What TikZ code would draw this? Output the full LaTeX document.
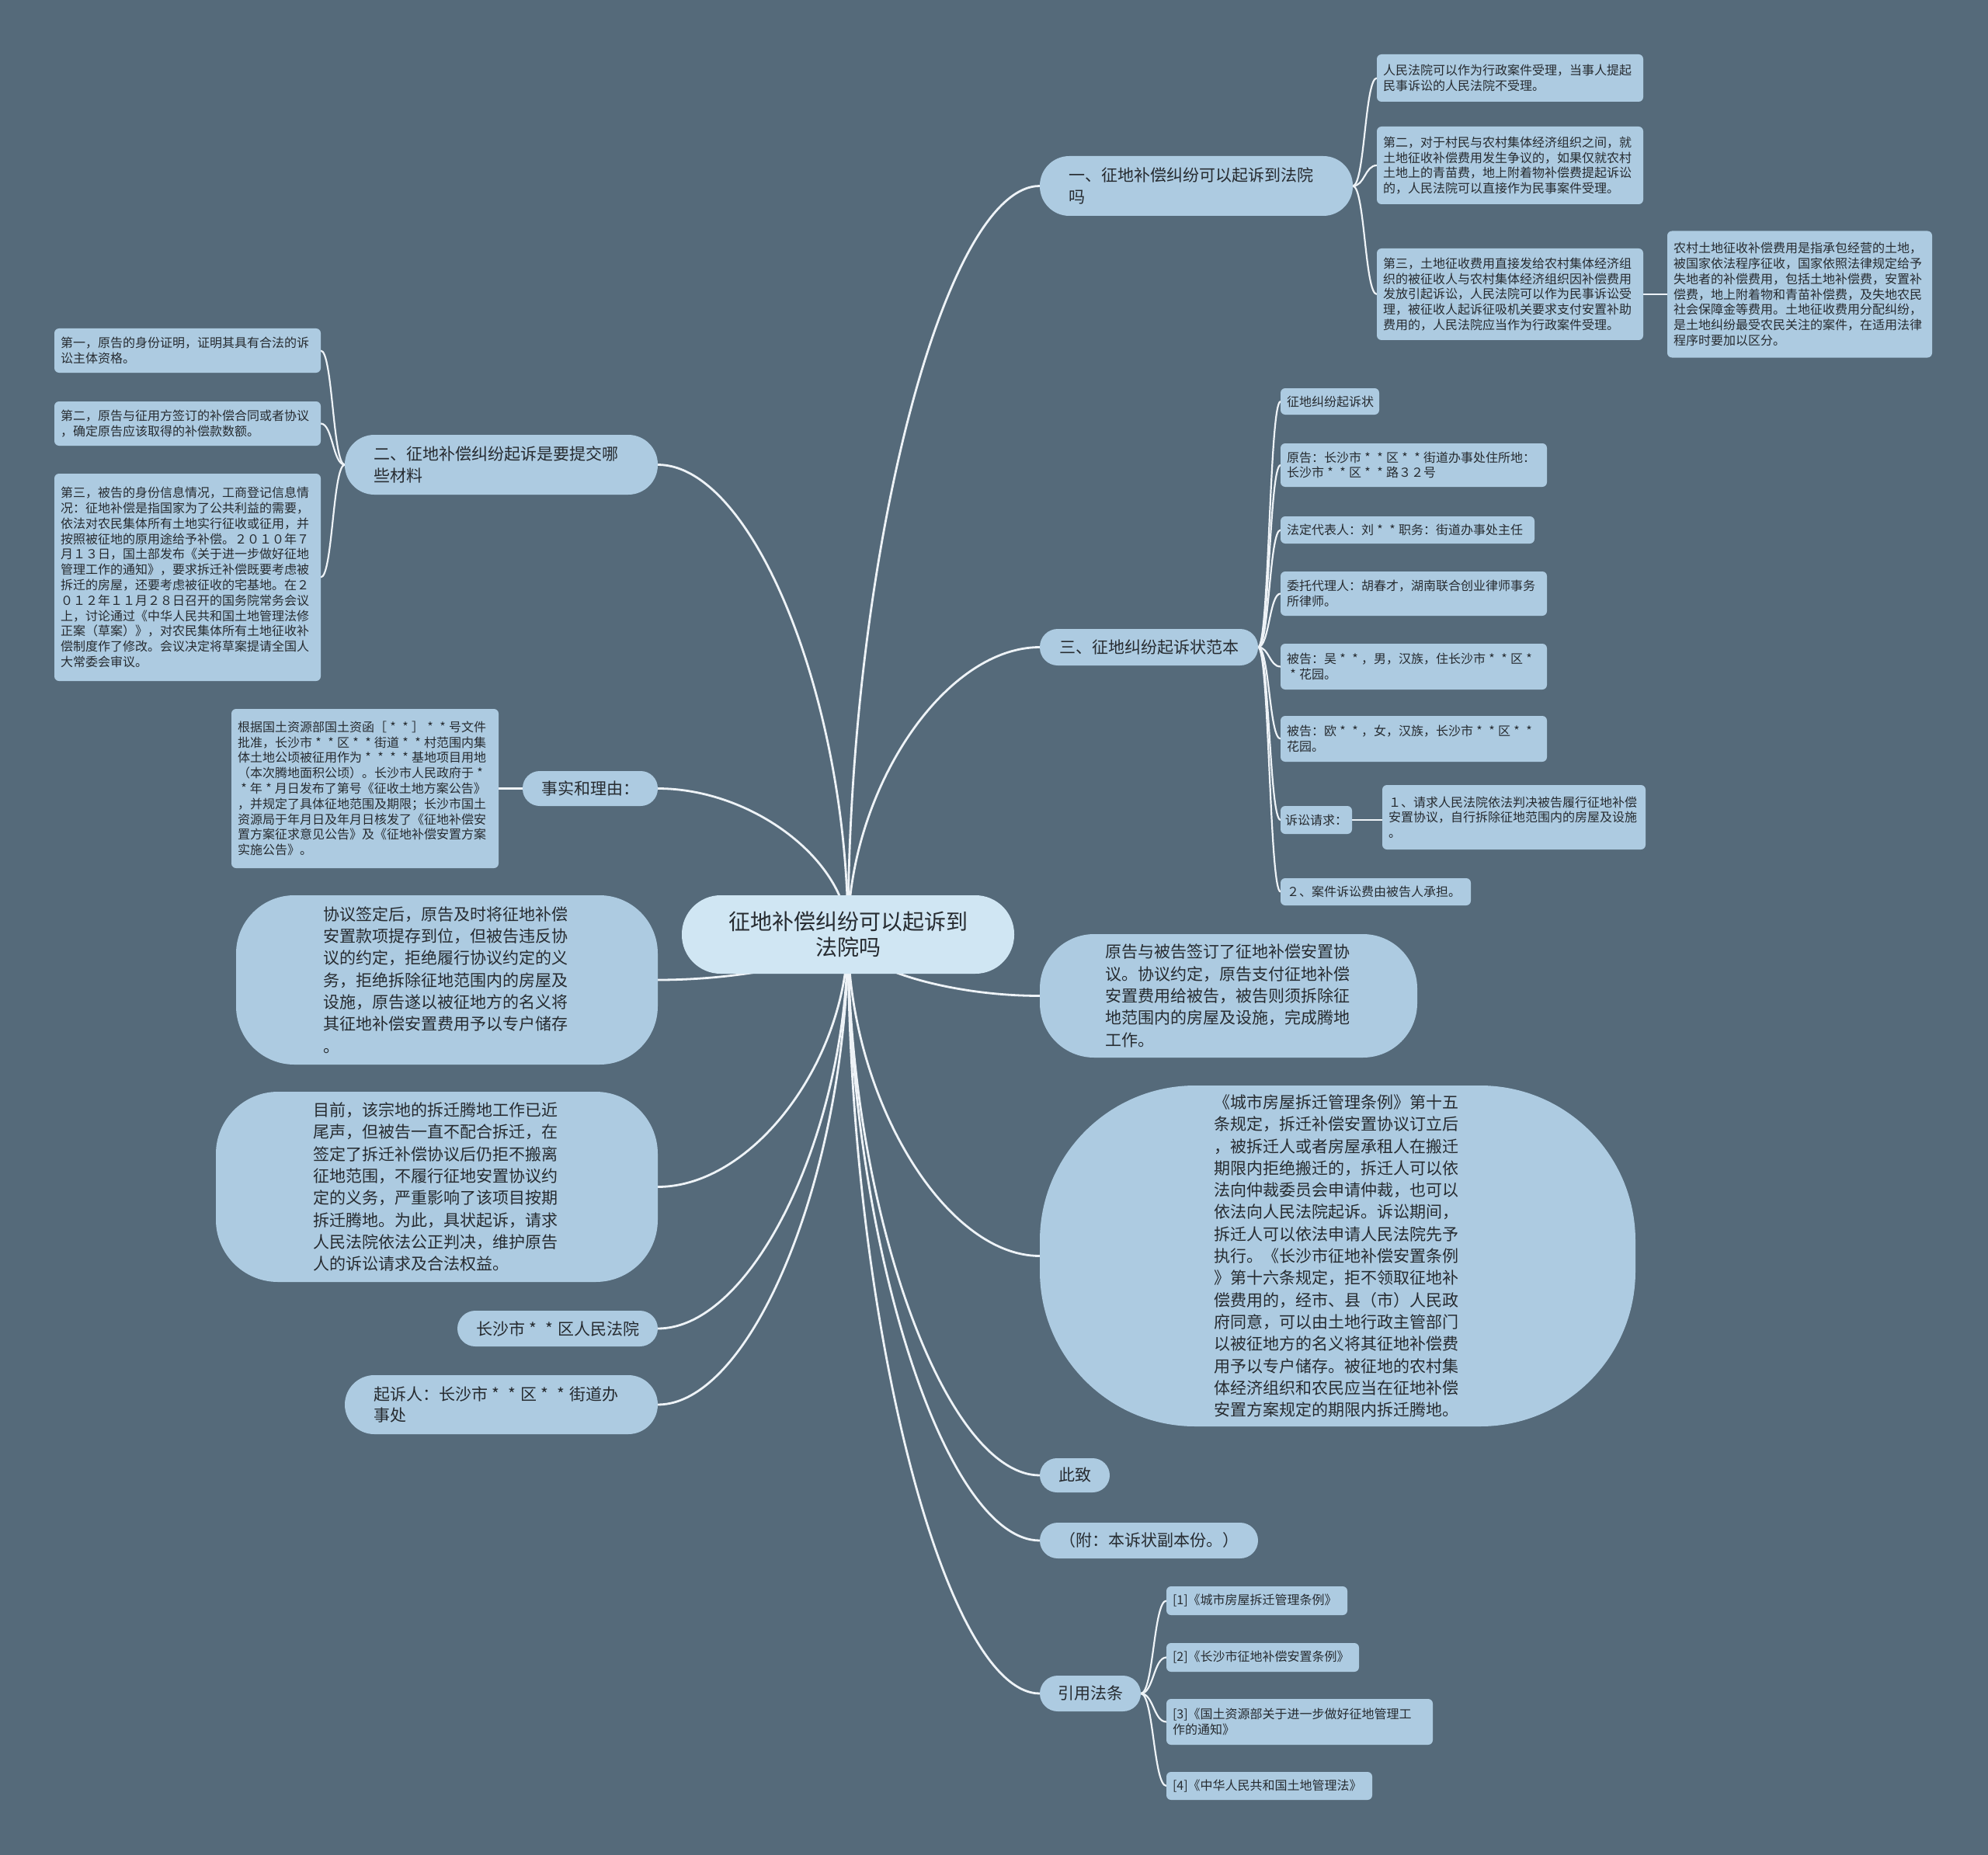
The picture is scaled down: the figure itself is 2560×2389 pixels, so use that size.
\documentclass[tikz,border=0pt]{standalone}
\usepackage{fontspec}
\setmainfont{Noto Sans CJK SC}
\usetikzlibrary{calc,backgrounds}
\definecolor{bgc}{HTML}{556A7A}
\definecolor{nodefill}{HTML}{ADCBE1}
\definecolor{rootfill}{HTML}{D0E6F3}
\definecolor{txtc}{HTML}{262B30}
\definecolor{linec}{HTML}{EEF3F7}
\newcommand\xing{\makebox[1em][c]{*}}
\tikzset{
  base/.style={draw=none, fill=nodefill, text=txtc, align=left, outer sep=0pt, inner ysep=3pt},
  sm/.style={base, rounded corners=6pt, font=\fontsize{16}{19.8}\selectfont, inner xsep=8pt},
  md/.style={base, font=\fontsize{21}{27.8}\selectfont},
  bigtext/.style={base, font=\fontsize{21}{28.3}\selectfont},
  conn/.style={draw=linec, line width=2.8pt},
  sconn/.style={draw=linec, line width=2.2pt},
}
\newcommand\rootto[2]{%
  \path ($(#1)!0.5!(#2)$) coordinate (mid);
  \draw[conn] (#1) .. controls (mid -| #1) and (mid |- #2) .. (#2);}
\newcommand\subto[2]{%
  \path ($(#1)!0.5!(#2)$) coordinate (mid);
  \draw[sconn] (#1) .. controls (mid |- #1) and (mid |- #2) .. (#2);}
\begin{document}
\begin{tikzpicture}[x=1pt,y=-1pt]
\begin{scope}[on background layer]
\fill[bgc] (0,0) rectangle (2560,2389);
\end{scope}
\useasboundingbox (0,0) rectangle (2560,2389);

% root
\node[base, fill=rootfill, font=\fontsize{28}{33}\selectfont, align=center, text width=330pt, inner xsep=49pt, minimum height=101pt, rounded corners=50pt] (root) at (1092,1203.5) {征地补偿纠纷可以起诉到\\法院吗};

% right branch 1
\node[md, text width=329pt, inner xsep=37pt, minimum height=77pt, rounded corners=38pt] (n1) at (1540.5,239.5) {一、征地补偿纠纷可以起诉到法院\\吗};
\node[sm, text width=327pt, minimum height=61pt] (r1a) at (1944.5,100.5) {人民法院可以作为行政案件受理，当事人提起\\民事诉讼的人民法院不受理。};
\node[sm, text width=327pt, minimum height=100pt] (r1b) at (1944.5,213) {第二，对于村民与农村集体经济组织之间，就\\土地征收补偿费用发生争议的，如果仅就农村\\土地上的青苗费，地上附着物补偿费提起诉讼\\的，人民法院可以直接作为民事案件受理。};
\node[sm, text width=327pt, minimum height=118pt] (r1c) at (1944.5,379) {第三，土地征收费用直接发给农村集体经济组\\织的被征收人与农村集体经济组织因补偿费用\\发放引起诉讼，人民法院可以作为民事诉讼受\\理，被征收人起诉征吸机关要求支付安置补助\\费用的，人民法院应当作为行政案件受理。};
\node[sm, text width=325pt, minimum height=163pt] (r1d) at (2317.5,379) {农村土地征收补偿费用是指承包经营的土地，\\被国家依法程序征收，国家依照法律规定给予\\失地者的补偿费用，包括土地补偿费，安置补\\偿费，地上附着物和青苗补偿费，及失地农民\\社会保障金等费用。土地征收费用分配纠纷，\\是土地纠纷最受农民关注的案件，在适用法律\\程序时要加以区分。};

% right branch 3
\node[md, text width=231pt, inner xsep=25pt, minimum height=47pt, rounded corners=23pt] (n3) at (1479.5,833.5) {三、征地纠纷起诉状范本};
\node[sm, text width=111pt, minimum height=34pt] (c1) at (1712.5,517) {征地纠纷起诉状};
\node[sm, text width=327pt, minimum height=56pt] (c2) at (1820.5,599) {原告：长沙市\xing{}\xing{}区\xing{}\xing{}街道办事处住所地：\\长沙市\xing{}\xing{}区\xing{}\xing{}路３２号};
\node[sm, text width=311pt, minimum height=35pt] (c3) at (1812.5,682.5) {法定代表人：刘\xing{}\xing{}职务：街道办事处主任};
\node[sm, text width=327pt, minimum height=57pt] (c4) at (1820.5,764.5) {委托代理人：胡春才，湖南联合创业律师事务\\所律师。};
\node[sm, text width=327pt, minimum height=59pt] (c5) at (1820.5,858.5) {被告：吴\xing{}\xing{}，男，汉族，住长沙市\xing{}\xing{}区\xing{}\\\xing{}花园。};
\node[sm, text width=327pt, minimum height=59pt] (c6) at (1820.5,951.5) {被告：欧\xing{}\xing{}，女，汉族，长沙市\xing{}\xing{}区\xing{}\xing{}\\花园。};
\node[sm, text width=80pt, inner xsep=6pt, minimum height=36pt] (c7) at (1695,1056) {诉讼请求：};
\node[sm, text width=323pt, minimum height=83pt] (c8) at (1949.5,1052.5) {１、请求人民法院依法判决被告履行征地补偿\\安置协议，自行拆除征地范围内的房屋及设施\\。};
\node[sm, text width=229pt, minimum height=35pt] (c9) at (1771.5,1148.5) {２、案件诉讼费由被告人承担。};

% right other
\node[bigtext, text width=318pt, inner xsep=84pt, minimum height=159pt, rounded corners=70pt] (n4) at (1582,1282.5) {原告与被告签订了征地补偿安置协\\议。协议约定，原告支付征地补偿\\安置费用给被告，被告则须拆除征\\地范围内的房屋及设施，完成腾地\\工作。};
\node[bigtext, text width=318pt, inner xsep=224.5pt, inner ysep=2pt, minimum height=439pt, rounded corners=200pt] (n5) at (1722.5,1617.5) {《城市房屋拆迁管理条例》第十五\\条规定，拆迁补偿安置协议订立后\\，被拆迁人或者房屋承租人在搬迁\\期限内拒绝搬迁的，拆迁人可以依\\法向仲裁委员会申请仲裁，也可以\\依法向人民法院起诉。诉讼期间，\\拆迁人可以依法申请人民法院先予\\执行。《长沙市征地补偿安置条例\\》第十六条规定，拒不领取征地补\\偿费用的，经市、县（市）人民政\\府同意，可以由土地行政主管部门\\以被征地方的名义将其征地补偿费\\用予以专户储存。被征地的农村集\\体经济组织和农民应当在征地补偿\\安置方案规定的期限内拆迁腾地。};
\node[md, text width=42pt, inner xsep=24pt, minimum height=44pt, rounded corners=22pt] (n6) at (1384,1900) {此致};
\node[md, text width=231pt, inner xsep=25pt, minimum height=46pt, rounded corners=23pt] (n7) at (1479.5,1984) {（附：本诉状副本份。）};
\node[md, text width=84pt, inner xsep=23pt, minimum height=46pt, rounded corners=23pt] (n8) at (1404,2181) {引用法条};
\node[sm, text width=217pt, minimum height=37pt] (f1) at (1618.5,2061.5) {[1]《城市房屋拆迁管理条例》};
\node[sm, text width=232pt, minimum height=37pt] (f2) at (1626,2134.5) {[2]《长沙市征地补偿安置条例》};
\node[sm, text width=327pt, minimum height=59pt] (f3) at (1673.5,2217.5) {[3]《国土资源部关于进一步做好征地管理工\\作的通知》};
\node[sm, text width=249pt, minimum height=36pt] (f4) at (1634.5,2300) {[4]《中华人民共和国土地管理法》};

% left
\node[md, text width=329pt, inner xsep=37pt, minimum height=77pt, rounded corners=38pt] (l1) at (645.5,598.5) {二、征地补偿纠纷起诉是要提交哪\\些材料};
\node[sm, text width=327pt, minimum height=57pt] (l1a) at (241.5,451.5) {第一，原告的身份证明，证明其具有合法的诉\\讼主体资格。};
\node[sm, text width=327pt, minimum height=57pt] (l1b) at (241.5,545.5) {第二，原告与征用方签订的补偿合同或者协议\\，确定原告应该取得的补偿款数额。};
\node[sm, text width=327pt, minimum height=267pt] (l1c) at (241.5,743.5) {第三，被告的身份信息情况，工商登记信息情\\况：征地补偿是指国家为了公共利益的需要，\\依法对农民集体所有土地实行征收或征用，并\\按照被征地的原用途给予补偿。２０１０年７\\月１３日，国土部发布《关于进一步做好征地\\管理工作的通知》，要求拆迁补偿既要考虑被\\拆迁的房屋，还要考虑被征收的宅基地。在２\\０１２年１１月２８日召开的国务院常务会议\\上，讨论通过《中华人民共和国土地管理法修\\正案（草案）》，对农民集体所有土地征收补\\偿制度作了修改。会议决定将草案提请全国人\\大常委会审议。};
\node[md, text width=126pt, inner xsep=24pt, minimum height=45pt, rounded corners=22pt] (l2) at (760,1015.5) {事实和理由：};
\node[sm, text width=328pt, minimum height=205pt] (l2a) at (470,1015.5) {根据国土资源部国土资函［\xing{}\xing{}］\xing{}\xing{}号文件\\批准，长沙市\xing{}\xing{}区\xing{}\xing{}街道\xing{}\xing{}村范围内集\\体土地公顷被征用作为\xing{}\xing{}\xing{}\xing{}基地项目用地\\（本次腾地面积公顷）。长沙市人民政府于\xing{}\\\xing{}年\xing{}月日发布了第号《征收土地方案公告》\\，并规定了具体征地范围及期限；长沙市国土\\资源局于年月日及年月日核发了《征地补偿安\\置方案征求意见公告》及《征地补偿安置方案\\实施公告》。};
\node[bigtext, text width=318pt, inner xsep=112.5pt, minimum height=218pt, rounded corners=75pt] (l3) at (575.5,1262) {协议签定后，原告及时将征地补偿\\安置款项提存到位，但被告违反协\\议的约定，拒绝履行协议约定的义\\务，拒绝拆除征地范围内的房屋及\\设施，原告遂以被征地方的名义将\\其征地补偿安置费用予以专户储存\\。};
\node[bigtext, text width=318pt, inner xsep=125.5pt, minimum height=245pt, rounded corners=80pt] (l4) at (562.5,1528.5) {目前，该宗地的拆迁腾地工作已近\\尾声，但被告一直不配合拆迁，在\\签定了拆迁补偿协议后仍拒不搬离\\征地范围，不履行征地安置协议约\\定的义务，严重影响了该项目按期\\拆迁腾地。为此，具状起诉，请求\\人民法院依法公正判决，维护原告\\人的诉讼请求及合法权益。};
\node[md, text width=210pt, inner xsep=24pt, minimum height=46pt, rounded corners=23pt] (l5) at (718,1711) {长沙市\xing{}\xing{}区人民法院};
\node[md, text width=329pt, inner xsep=37pt, minimum height=76pt, rounded corners=38pt] (l6) at (645.5,1809) {起诉人：长沙市\xing{}\xing{}区\xing{}\xing{}街道办\\事处};

% connectors
\begin{scope}[on background layer]
\rootto{root.center}{n1.west}
\rootto{root.center}{n3.west}
\rootto{root.center}{n4.west}
\rootto{root.center}{n5.west}
\rootto{root.center}{n6.west}
\rootto{root.center}{n7.west}
\rootto{root.center}{n8.west}
\rootto{root.center}{l1.east}
\rootto{root.center}{l2.east}
\rootto{root.center}{l3.east}
\rootto{root.center}{l4.east}
\rootto{root.center}{l5.east}
\rootto{root.center}{l6.east}
\subto{n1.east}{r1a.west}
\subto{n1.east}{r1b.west}
\subto{n1.east}{r1c.west}
\draw[sconn] (r1c.east) -- (r1d.west);
\subto{n3.east}{c1.west}
\subto{n3.east}{c2.west}
\subto{n3.east}{c3.west}
\subto{n3.east}{c4.west}
\subto{n3.east}{c5.west}
\subto{n3.east}{c6.west}
\subto{n3.east}{c7.west}
\subto{n3.east}{c9.west}
\draw[sconn] (c7.east) -- (c7.east -| c8.west);
\subto{n8.east}{f1.west}
\subto{n8.east}{f2.west}
\subto{n8.east}{f3.west}
\subto{n8.east}{f4.west}
\subto{l1.west}{l1a.east}
\subto{l1.west}{l1b.east}
\subto{l1.west}{l1c.east}
\draw[sconn] (l2.west) -- (l2a.east);
\end{scope}
\end{tikzpicture}
\end{document}
